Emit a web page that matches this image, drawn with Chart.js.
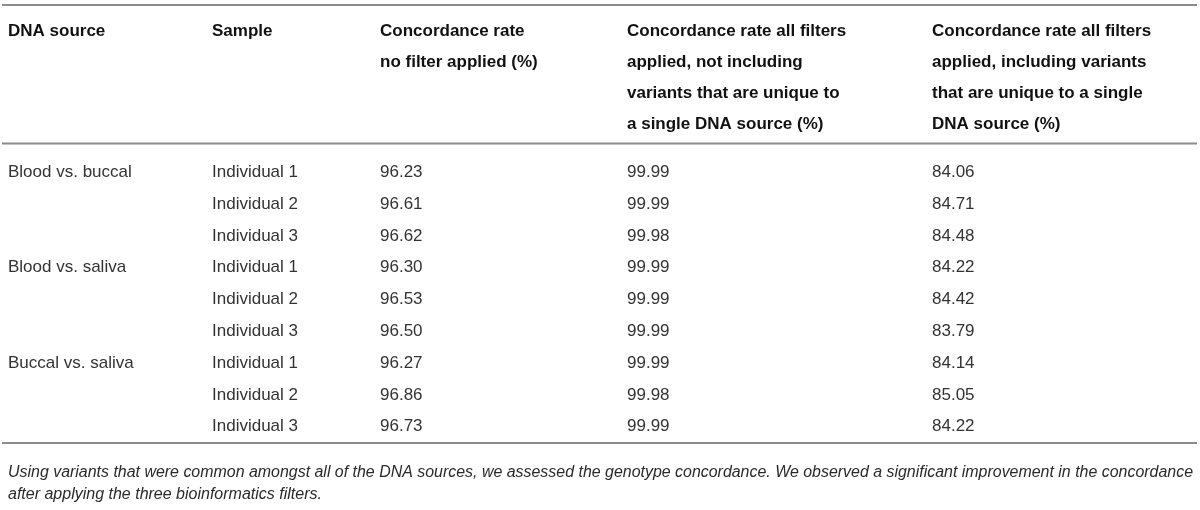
<!DOCTYPE html>
<html>
<head>
<meta charset="utf-8">
<script src="https://cdn.jsdelivr.net/npm/chart.js@4.4.1/dist/chart.umd.min.js"></script>
<style>
html, body { margin: 0; padding: 0; background: #fff; }
#wrap { width: 1200px; height: 510px; position: relative; }
</style>
</head>
<body>
<div id="wrap"><canvas id="mainChart"></canvas></div>
<script>
// table content
var headers = [
    ["DNA source"],
    ["Sample"],
    ["Concordance rate", "no filter applied (%)"],
    ["Concordance rate all filters", "applied, not including", "variants that are unique to", "a single DNA source (%)"],
    ["Concordance rate all filters", "applied, including variants", "that are unique to a single", "DNA source (%)"]
]
var sources = ["Blood vs. buccal", "", "", "Blood vs. saliva", "", "", "Buccal vs. saliva", "", ""]
var samples = ["Individual 1", "Individual 2", "Individual 3",
               "Individual 1", "Individual 2", "Individual 3",
               "Individual 1", "Individual 2", "Individual 3"]
var noFilter    = [96.23, 96.61, 96.62, 96.30, 96.53, 96.50, 96.27, 96.86, 96.73]
var filtersExcl = [99.99, 99.99, 99.98, 99.99, 99.99, 99.99, 99.99, 99.98, 99.99]
var filtersIncl = [84.06, 84.71, 84.48, 84.22, 84.42, 83.79, 84.14, 85.05, 84.22]
var caption = [
    "Using variants that were common amongst all of the DNA sources, we assessed the genotype concordance. We observed a significant improvement in the concordance",
    "after applying the three bioinformatics filters."
]

// left edge of each column on the x scale (0..1200)
var colLeft = [8, 212, 380, 627, 932]

var columns = [
    sources,
    samples,
    noFilter.map(function (v) { return v.toFixed(2) }),
    filtersExcl.map(function (v) { return v.toFixed(2) }),
    filtersIncl.map(function (v) { return v.toFixed(2) })
]

var datasets = []
for (var c = 0; c < columns.length; c++) {
    var pts = []
    for (var r = 0; r < columns[c].length; r++) {
        pts.push({ x: colLeft[c], y: r })
    }
    datasets.push({ label: headers[c].join(" "), data: pts, cells: columns[c], pointRadius: 0 })
}

var tablePlugin = {
    id: "tableText",
    afterDatasetsDraw: function (chart) {
        var ctx = chart.ctx
        var area = chart.chartArea
        var xs = chart.scales.x
        ctx.save()

        // rules
        ctx.strokeStyle = "#8c8c8c"
        ctx.lineWidth = 2
        var rules = [5, area.top - 12.5, area.bottom + 1]
        rules.forEach(function (y) {
            ctx.beginPath()
            ctx.moveTo(2, y)
            ctx.lineTo(1197, y)
            ctx.stroke()
        })

        // header
        ctx.fillStyle = "#111"
        ctx.font = "bold 17px 'Liberation Sans', Arial, sans-serif"
        ctx.textBaseline = "middle"
        ctx.textAlign = "left"
        for (var c = 0; c < headers.length; c++) {
            for (var l = 0; l < headers[c].length; l++) {
                ctx.fillText(headers[c][l], xs.getPixelForValue(colLeft[c]), area.top - 125 + l * 31)
            }
        }

        // cells
        ctx.fillStyle = "#333"
        ctx.font = "17px 'Liberation Sans', Arial, sans-serif"
        chart.data.datasets.forEach(function (ds, i) {
            var meta = chart.getDatasetMeta(i)
            meta.data.forEach(function (pt, j) {
                ctx.fillText(ds.cells[j], pt.x, pt.y + 0.5)
            })
        })

        // caption
        ctx.fillStyle = "#2a2a2a"
        ctx.font = "italic 16px 'Liberation Sans', Arial, sans-serif"
        ctx.fillText(caption[0], 8, area.bottom + 31, 1185)
        ctx.fillText(caption[1], 8, area.bottom + 53)
        ctx.restore()
    }
}

var ctx = document.getElementById('mainChart').getContext('2d')
var mainChart = new Chart(ctx, {
    type: "scatter",
    data: { datasets: datasets },
    options: {
        responsive: true,
        maintainAspectRatio: false,
        animation: false,
        layout: { padding: { top: 156, bottom: 68, left: 0, right: 0 } },
        plugins: {
            legend: { display: false },
            tooltip: { enabled: false },
            title: { display: false }
        },
        scales: {
            x: { type: "linear", min: 0, max: 1200, display: false },
            y: { type: "linear", min: -0.5, max: 8.5, reverse: true, display: false }
        }
    },
    plugins: [tablePlugin]
})
</script>
</body>
</html>
